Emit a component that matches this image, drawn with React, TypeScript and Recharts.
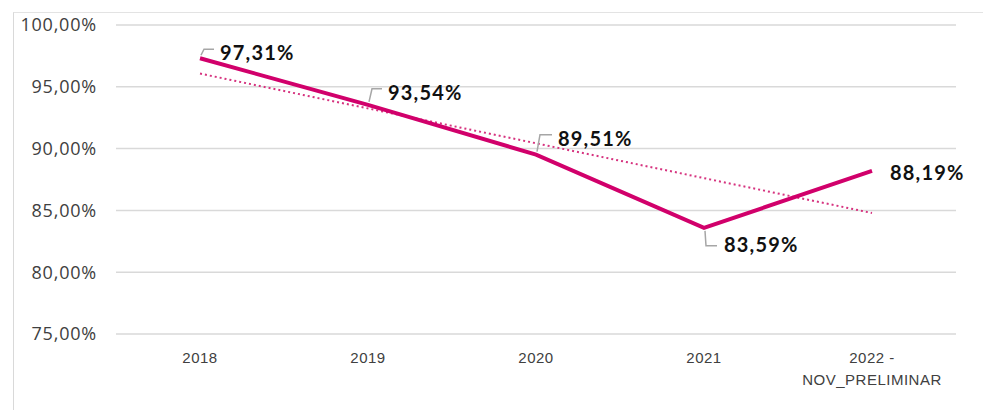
import React from "react";
import { LineChart, Line, XAxis, YAxis, CartesianGrid, LabelList } from "recharts";

const categories = ["2018", "2019", "2020", "2021", "2022 -\nNOV_PRELIMINAR"];
const values = [97.31, 93.54, 89.51, 83.59, 88.19];
const trendValues = [96.07, null, null, null, 84.79];
const yTicks = [75, 80, 85, 90, 95, 100];

const data = categories.map((c, i) => ({ cat: c, v: values[i], t: trendValues[i] }));

// label placement: [dx, dy, leader]
const labelPlace: [number, number, boolean][] = [
  [20, -6, true],
  [20, -13, true],
  [22, -17, true],
  [20, 16, true],
  [18, 1, false],
];

const fmt = (v: number) => v.toFixed(2).replace(".", ",") + "%";

const DataLabel = (props: any) => {
  const { x, y, value, index } = props;
  const [dx, dy, leader] = labelPlace[index];
  const ly = y + dy;
  let path = "";
  if (leader) {
    if (dy < 0) {
      path = `M${x + 1},${y - 3} L${x + 4},${ly - 3} L${x + dx - 6},${ly - 3}`;
    } else {
      path = `M${x + 1},${y + 3} L${x + 2},${ly + 2} L${x + dx - 7},${ly + 2}`;
    }
  }
  return (
    <g>
      {leader && <path d={path} stroke="#a6a6a6" strokeWidth={1.5} fill="none" />}
      <text
        x={x + dx}
        y={ly}
        dominantBaseline="central"
        fontFamily="Lato, 'Open Sans', sans-serif"
        fontWeight={700}
        fontSize={20}
        letterSpacing={1.2}
        fill="#111"
      >
        {fmt(value)}
      </text>
    </g>
  );
};

const XTick = (props: any) => {
  const { x, y, payload } = props;
  const lines = String(payload.value).split("\n");
  return (
    <text
      x={x}
      y={y + 21}
      textAnchor="middle"
      fontFamily="'Liberation Sans', Arial, sans-serif"
      fontSize={15}
      letterSpacing={0.5}
      fill="#404040"
    >
      {lines.map((l, i) => (
        <tspan key={i} x={x} dy={i === 0 ? 0 : 22}>
          {l}
        </tspan>
      ))}
    </text>
  );
};

export default function App() {
  return (
    <div style={{ position: "absolute", left: 0, top: 0, width: 983, height: 410, background: "#fff" }}>
      <div
        style={{
          position: "absolute",
          left: 13,
          top: 12,
          right: 0,
          bottom: 0,
          borderLeft: "1.5px solid #d9d9d9",
          borderTop: "1.5px solid #e3e3e3",
        }}
      />
      <div style={{ position: "absolute", left: 0, top: 0 }}>
        <LineChart width={983} height={410} data={data} margin={{ top: 25, right: 27, bottom: 16, left: 0 }}>
          <CartesianGrid vertical={false} stroke="#d9d9d9" strokeWidth={1.5} />
          <XAxis
            dataKey="cat"
            axisLine={false}
            tickLine={false}
            height={60}
            interval={0}
            padding={{ left: 84, right: 84 }}
            tick={<XTick />}
          />
          <YAxis
            domain={[75, 100]}
            ticks={yTicks}
            width={116}
            axisLine={false}
            tickLine={false}
            tickSize={0}
            tickMargin={19}
            interval={0}
            tickFormatter={(v: number) => v.toFixed(2).replace(".", ",") + "%"}
            tick={{ fontFamily: "'Open Sans', sans-serif", fontSize: 18, fill: "#404040", letterSpacing: 0.8 }}
          />
          <Line
            dataKey="t"
            connectNulls
            stroke="#d6337f"
            strokeWidth={2}
            strokeDasharray="2 3"
            dot={false}
            isAnimationActive={false}
          />
          <Line
            dataKey="v"
            stroke="#d1006b"
            strokeWidth={4}
            dot={false}
            isAnimationActive={false}
          >
            <LabelList dataKey="v" content={<DataLabel />} />
          </Line>
        </LineChart>
      </div>
    </div>
  );
}
